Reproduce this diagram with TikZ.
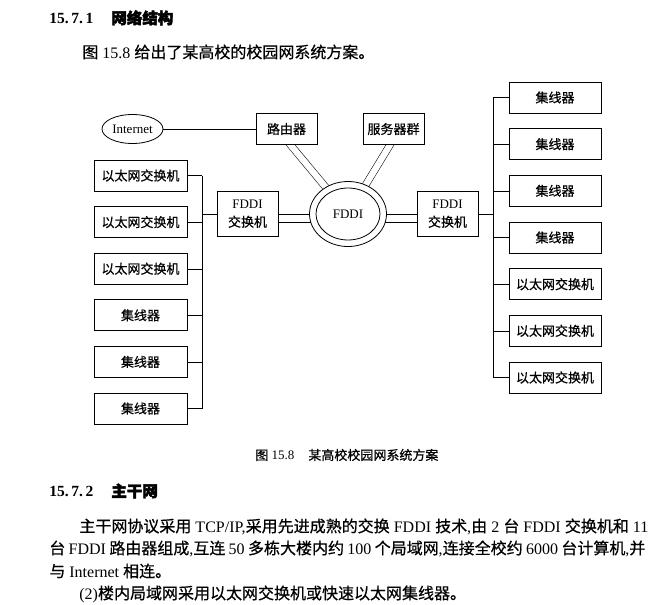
\documentclass[tikz,border=0pt]{standalone}
\usepackage{fontspec}
\setmainfont{Liberation Serif}
\newfontfamily\cjk[FakeBold=0.6]{Noto Sans CJK SC}
\newfontfamily\cjkb[FakeBold=2.5]{Noto Sans CJK SC}
\newcommand\zh[1]{{\cjk #1}}
\XeTeXlinebreaklocale "zh"
\XeTeXlinebreakskip=0pt plus 1pt
\usetikzlibrary{shapes.geometric,calc}
\pgfdeclarelayer{bg}
\pgfsetlayers{bg,main}
\begin{document}
\begin{tikzpicture}[x=1pt,y=-1pt,line width=0.8pt,
  lbl/.style={font=\fontsize{13}{18}\selectfont},
  sbox/.style={lbl,draw,fill=white,inner sep=0pt,minimum width=61pt,minimum height=31pt},
  lbox/.style={lbl,draw,fill=white,inner sep=0pt,minimum width=93pt,minimum height=31pt},
  rbox/.style={lbl,draw,fill=white,inner sep=0pt,minimum width=92pt,minimum height=31pt},
  fbox/.style={lbl,draw,fill=white,inner sep=0pt,minimum width=61pt,minimum height=45pt,align=center},
  ell/.style={lbl,draw,fill=white,ellipse,inner sep=0pt,minimum width=61pt,minimum height=29pt},
  ringst/.style={draw,fill=white,ellipse,inner sep=0pt,minimum width=77pt,minimum height=65pt},
  txt/.style={anchor=west,inner sep=0pt,font=\fontsize{16}{18}\selectfont,text height=14.08pt,text depth=1.92pt},
  captxt/.style={anchor=west,inner sep=0pt,font=\fontsize{13}{15}\selectfont,text height=11.44pt,text depth=1.56pt},
  hd/.style={anchor=west,inner sep=0pt,font=\fontsize{15.5}{17}\selectfont\bfseries,text height=13.6pt,text depth=1.9pt}]
\useasboundingbox (0,0) rectangle (651,605);

% --- texts ---
\node[hd] (h1a) at (49,18) {15.\,7.\,1};
\node[hd] (h1b) at (111,18) {\cjkb 网络结构};
\node[txt] (s1) at (82,52) {\zh{图} 15.8 \zh{给出了某高校的校园网系统方案。}};
\node[captxt] (c1a) at (255,455) {\zh{图} 15.8};
\node[captxt] (c1b) at (308,455) {\zh{某高校校园网系统方案}};
\node[hd] (h2a) at (49,491) {15.\,7.\,2};
\node[hd] (h2b) at (111,491) {\cjkb 主干网};
\node[txt] (p1) at (79,526) {\hbox to 569pt{\zh{主干网协议采用} TCP/IP,\zh{采用先进成熟的交换} FDDI \zh{技术},\zh{由} 2 \zh{台} FDDI \zh{交换机和} 11}};
\node[txt] (p2) at (49,548) {\hbox to 596pt{\zh{台} FDDI \zh{路由器组成},\zh{互连} 50 \zh{多栋大楼内约} 100 \zh{个局域网},\zh{连接全校约} 6000 \zh{台计算机},\zh{并}}};
\node[txt] (p3) at (49,571) {\zh{与} Internet \zh{相连。}};
\node[txt] (p4) at (79,593) {(2)\zh{楼内局域网采用以太网交换机或快速以太网集线器。}};

% --- diagram nodes ---
\node[ell] (inet) at (132.5,129) {Internet};
\node[sbox] (router) at (286.5,129) {\zh{路由器}};
\node[sbox] (server) at (393.5,129) {\zh{服务器群}};
\node[ringst] (ring) at (348,214) {};
\draw (ring.center) ellipse [x radius=32pt, y radius=26pt];
\node[lbl] (ringlbl) at (ring.center) {FDDI};
\node[fbox] (lf) at (247.5,214) {FDDI\\\zh{交换机}};
\node[fbox] (rf) at (447.5,214) {FDDI\\\zh{交换机}};

\node[lbox] (l1) at (140.5,175.5) {\zh{以太网交换机}};
\node[lbox] (l2) at (140.5,222.1) {\zh{以太网交换机}};
\node[lbox] (l3) at (140.5,268.7) {\zh{以太网交换机}};
\node[lbox] (l4) at (140.5,315.3) {\zh{集线器}};
\node[lbox] (l5) at (140.5,361.9) {\zh{集线器}};
\node[lbox] (l6) at (140.5,408.5) {\zh{集线器}};

\node[rbox] (r1) at (555,97.5) {\zh{集线器}};
\node[rbox] (r2) at (555,144.2) {\zh{集线器}};
\node[rbox] (r3) at (555,190.8) {\zh{集线器}};
\node[rbox] (r4) at (555,237.5) {\zh{集线器}};
\node[rbox] (r5) at (555,284.2) {\zh{以太网交换机}};
\node[rbox] (r6) at (555,330.8) {\zh{以太网交换机}};
\node[rbox] (r7) at (555,377.5) {\zh{以太网交换机}};

\coordinate (bl) at (202,0);
\coordinate (br) at (493,0);
\coordinate (ra) at ($(router.south)+(4,0)$);
\coordinate (sa) at ($(server.south)+(-3.5,0)$);
\coordinate (ra0) at ($(ra)!-8pt!(ring.center)$);
\coordinate (sa0) at ($(sa)!-8pt!(ring.center)$);

% --- connectors (behind) ---
\begin{pgfonlayer}{bg}
\draw (inet) -- (router);
\draw ($(ra0)!3.5pt!90:(ring.center)$) -- ($(ring.center)!3.5pt!-90:(ra0)$);
\draw ($(ra0)!3.5pt!-90:(ring.center)$) -- ($(ring.center)!3.5pt!90:(ra0)$);
\draw ($(sa0)!3.5pt!90:(ring.center)$) -- ($(ring.center)!3.5pt!-90:(sa0)$);
\draw ($(sa0)!3.5pt!-90:(ring.center)$) -- ($(ring.center)!3.5pt!90:(sa0)$);
\draw (lf.east) -- (ring.center);
\draw ([yshift=-8pt]lf.east) -- ([yshift=-8pt]ring.center);
\draw (rf.west) -- (ring.center);
\draw ([yshift=-8pt]rf.west) -- ([yshift=-8pt]ring.center);
\draw (l1.east -| bl) -- (l6.east -| bl);
\foreach \n in {l1,l2,l3,l4,l5,l6} \draw (\n.east) -- (\n.east -| bl);
\draw (lf.west -| bl) -- (lf.west);
\draw (r1.west -| br) -- (r7.west -| br);
\foreach \n in {r1,r2,r3,r4,r5,r6,r7} \draw (\n.west) -- (\n.west -| br);
\draw (rf.east) -- (rf.east -| br);
\end{pgfonlayer}
\end{tikzpicture}
\end{document}
